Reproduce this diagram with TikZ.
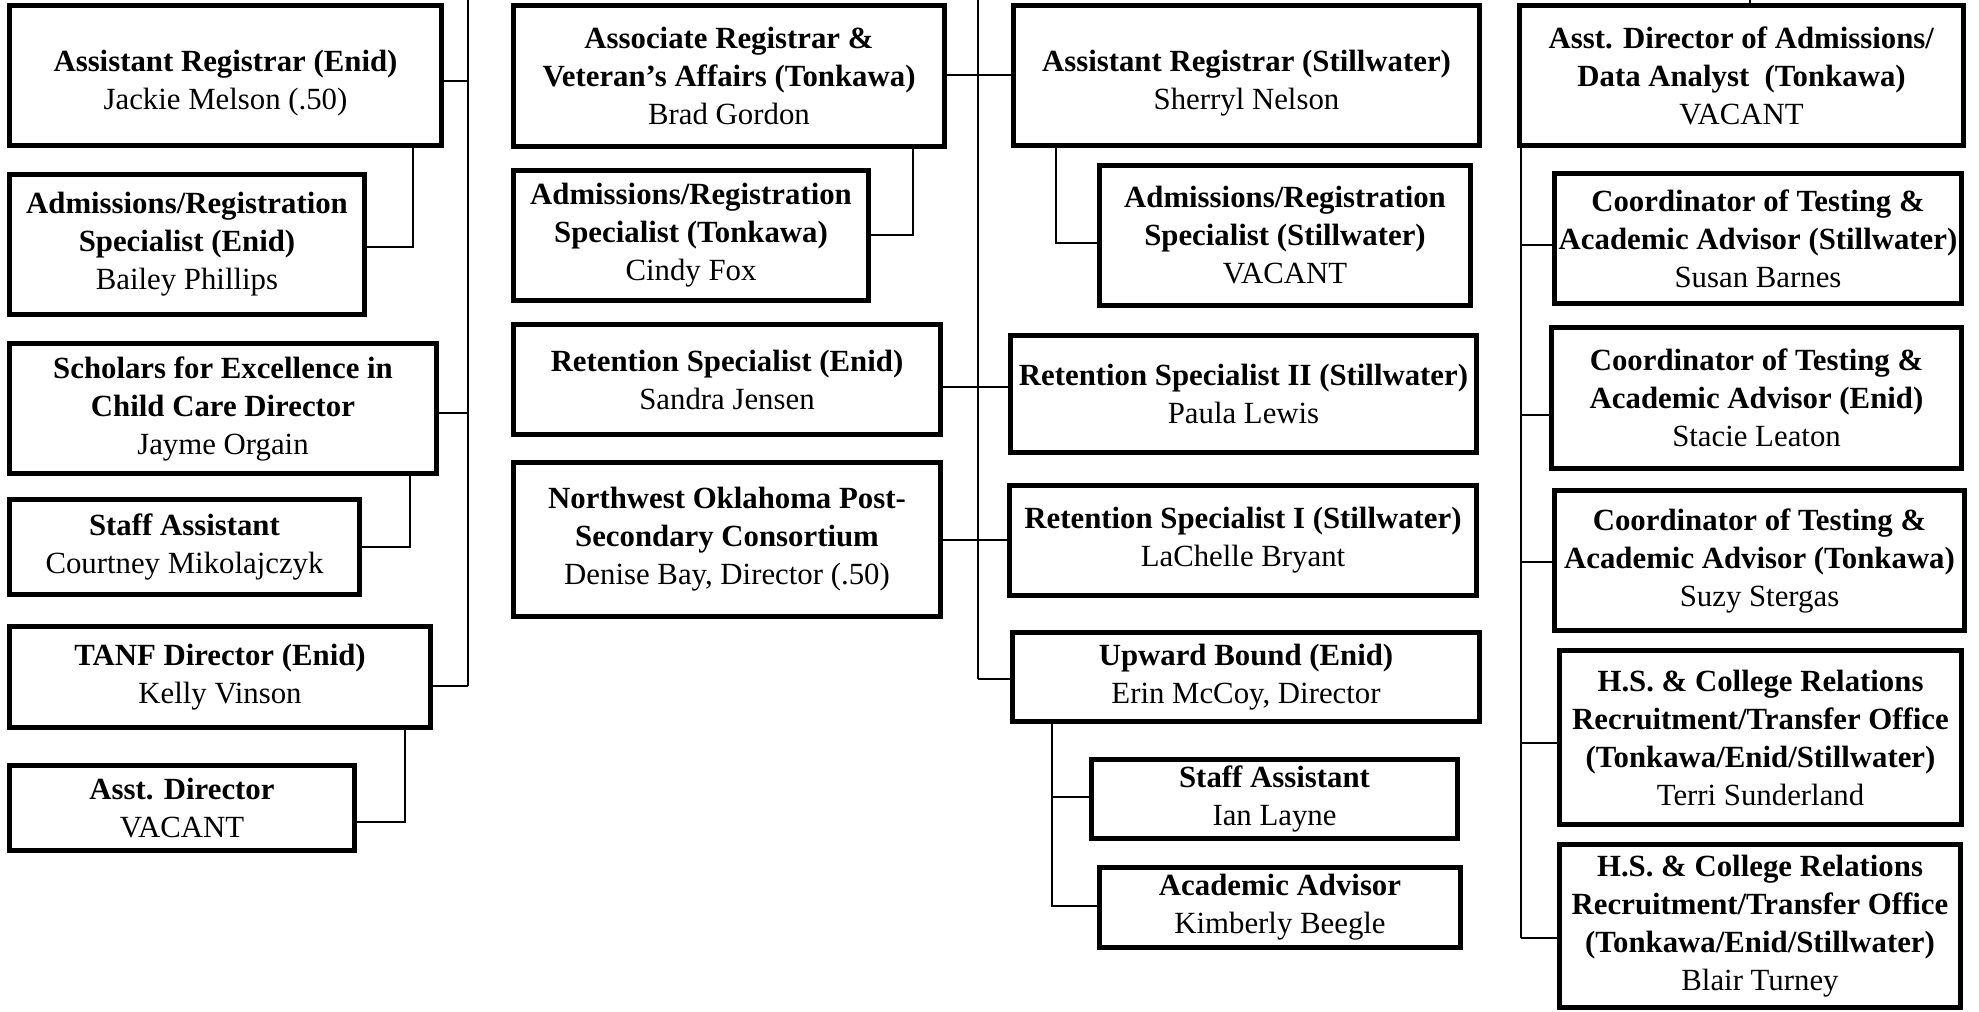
\documentclass[tikz,border=0pt]{standalone}
\usepackage{fontspec}
\setmainfont{Liberation Serif}
\tikzset{
  orgbox/.style={draw, line width=2.5pt, inner sep=0pt, align=center, fill=white,
    font=\fontsize{15.4}{19}\selectfont},
  conn/.style={line width=1.2pt}
}
% name, left, top, right, bottom (outer edges, px), content
\newcommand\orgbox[6]{%
  \node[orgbox, minimum width={(#4-#2-5)*0.5pt}, minimum height={(#5-#3-5)*0.5pt}]
    (#1) at ({(#2+#4)/2},{(#3+#5)/2}) {#6};}
\newcommand\lowerstrut{\rule{0pt}{18pt}}
\begin{document}
\begin{tikzpicture}[x=0.5pt, y=-0.5pt]
\fill[white] (0,0) rectangle (1979,1011);
\useasboundingbox (0,0) rectangle (1979,1011);

% ---------- column 1 ----------
\orgbox{A1}{7}{3}{444}{148}{\lowerstrut\textbf{Assistant Registrar (Enid)}\\Jackie Melson (.50)}
\orgbox{A2}{7}{172}{367}{317}{\textbf{Admissions/Registration}\\\textbf{Specialist (Enid)}\\Bailey Phillips}
\orgbox{A3}{7}{341}{439}{476}{\textbf{Scholars for Excellence in}\\\textbf{Child Care Director}\\Jayme Orgain}
\orgbox{A4}{7}{497}{362}{597}{\textbf{Staff Assistant}\\Courtney Mikolajczyk}
\orgbox{A5}{7}{624}{433}{730}{\textbf{TANF Director (Enid)}\\Kelly Vinson}
\orgbox{A6}{7}{763}{357}{853}{\textbf{Asst. Director}\\VACANT}

% ---------- column 2 ----------
\orgbox{B1}{511}{3}{947}{149}{\textbf{Associate Registrar \&}\\\textbf{Veteran’s Affairs (Tonkawa)}\\Brad Gordon}
\orgbox{B2}{511}{168}{871}{303}{\textbf{Admissions/Registration}\\\textbf{Specialist (Tonkawa)}\\Cindy Fox}
\orgbox{B3}{511}{322}{943}{437}{\textbf{Retention Specialist (Enid)}\\Sandra Jensen}
\orgbox{B4}{511}{460}{943}{619}{\textbf{Northwest Oklahoma Post-}\\\textbf{Secondary Consortium}\\Denise Bay, Director (.50)}

% ---------- column 3 ----------
\orgbox{C1}{1011}{3}{1482}{148}{\lowerstrut\textbf{Assistant Registrar (Stillwater)}\\Sherryl Nelson}
\orgbox{C2}{1097}{163}{1473}{308}{\textbf{Admissions/Registration}\\\textbf{Specialist (Stillwater)}\\VACANT}
\orgbox{C3}{1008}{333}{1479}{455}{\textbf{Retention Specialist II (Stillwater)}\\Paula Lewis}
\orgbox{C4}{1007}{483}{1479}{598}{\textbf{Retention Specialist I (Stillwater)}\\LaChelle Bryant}
\orgbox{C5}{1010}{630}{1482}{724}{\textbf{Upward Bound (Enid)}\\Erin McCoy, Director}
\orgbox{C6}{1089}{757}{1460}{841}{\textbf{Staff Assistant}\\Ian Layne}
\orgbox{C7}{1097}{865}{1463}{950}{\textbf{Academic Advisor}\\Kimberly Beegle}

% ---------- column 4 ----------
\orgbox{D1}{1517}{3}{1966}{148}{\textbf{Asst. Director of Admissions/}\\\textbf{Data Analyst\ \ (Tonkawa)}\\VACANT}
\orgbox{D2}{1552}{171}{1964}{306}{\textbf{Coordinator of Testing \&}\\\textbf{Academic Advisor (Stillwater)}\\Susan Barnes}
\orgbox{D3}{1549}{325}{1964}{471}{\textbf{Coordinator of Testing \&}\\\textbf{Academic Advisor (Enid)}\\Stacie Leaton}
\orgbox{D4}{1552}{488}{1967}{633}{\textbf{Coordinator of Testing \&}\\\textbf{Academic Advisor (Tonkawa)}\\Suzy Stergas}
\orgbox{D5}{1557}{648}{1964}{827}{\textbf{H.S. \& College Relations}\\\textbf{Recruitment/Transfer Office}\\\textbf{(Tonkawa/Enid/Stillwater)}\\Terri Sunderland}
\orgbox{D6}{1557}{842}{1963}{1010}{\textbf{H.S. \& College Relations}\\\textbf{Recruitment/Transfer Office}\\\textbf{(Tonkawa/Enid/Stillwater)}\\Blair Turney}

% ---------- connectors, column 1 ----------
\coordinate (T1top) at (468,0);
\coordinate (J1) at (468,81);
\coordinate (J3) at (468,413);
\coordinate (J5) at (468,686);
\draw[conn] (T1top) -- (J5);
\draw[conn] (A1.east |- J1) -- (J1);
\draw[conn] (A3.east |- J3) -- (J3);
\draw[conn] (A5.east |- J5) -- (J5);
\coordinate (K1) at (413,247);
\draw[conn] (A1.south -| K1) -- (K1) -- (A2.east |- K1);
\coordinate (K1b) at (410,547);
\draw[conn] (A3.south -| K1b) -- (K1b) -- (A4.east |- K1b);
\coordinate (K1c) at (405,822);
\draw[conn] (A5.south -| K1c) -- (K1c) -- (A6.east |- K1c);

% ---------- connectors, columns 2-3 ----------
\coordinate (T2top) at (978,0);
\coordinate (J7) at (978,75);
\coordinate (J9) at (978,387);
\coordinate (J10) at (978,540);
\coordinate (J11) at (978,679);
\draw[conn] (T2top) -- (J11);
\draw[conn] (B1.east |- J7) -- (C1.west |- J7);
\draw[conn] (B3.east |- J9) -- (C3.west |- J9);
\draw[conn] (B4.east |- J10) -- (C4.west |- J10);
\draw[conn] (J11) -- (C5.west |- J11);
\coordinate (K2) at (913,235);
\draw[conn] (B1.south -| K2) -- (K2) -- (B2.east |- K2);
\coordinate (K3) at (1056,243);
\draw[conn] (C1.south -| K3) -- (K3) -- (C2.west |- K3);
\coordinate (K4) at (1052,797);
\coordinate (K5) at (1052,906);
\draw[conn] (C5.south -| K4) -- (K5) -- (C7.west |- K5);
\draw[conn] (K4) -- (C6.west |- K4);

% ---------- connectors, column 4 ----------
\coordinate (T4top) at (1750,0);
\draw[conn] (T4top) -- (D1.north -| T4top);
\coordinate (J12) at (1521,245);
\coordinate (J13) at (1521,415);
\coordinate (J14) at (1521,562);
\coordinate (J15) at (1521,743);
\coordinate (J16) at (1521,938);
\draw[conn] (D1.south -| J12) -- (J16);
\draw[conn] (J12) -- (D2.west |- J12);
\draw[conn] (J13) -- (D3.west |- J13);
\draw[conn] (J14) -- (D4.west |- J14);
\draw[conn] (J15) -- (D5.west |- J15);
\draw[conn] (J16) -- (D6.west |- J16);
\end{tikzpicture}
\end{document}
